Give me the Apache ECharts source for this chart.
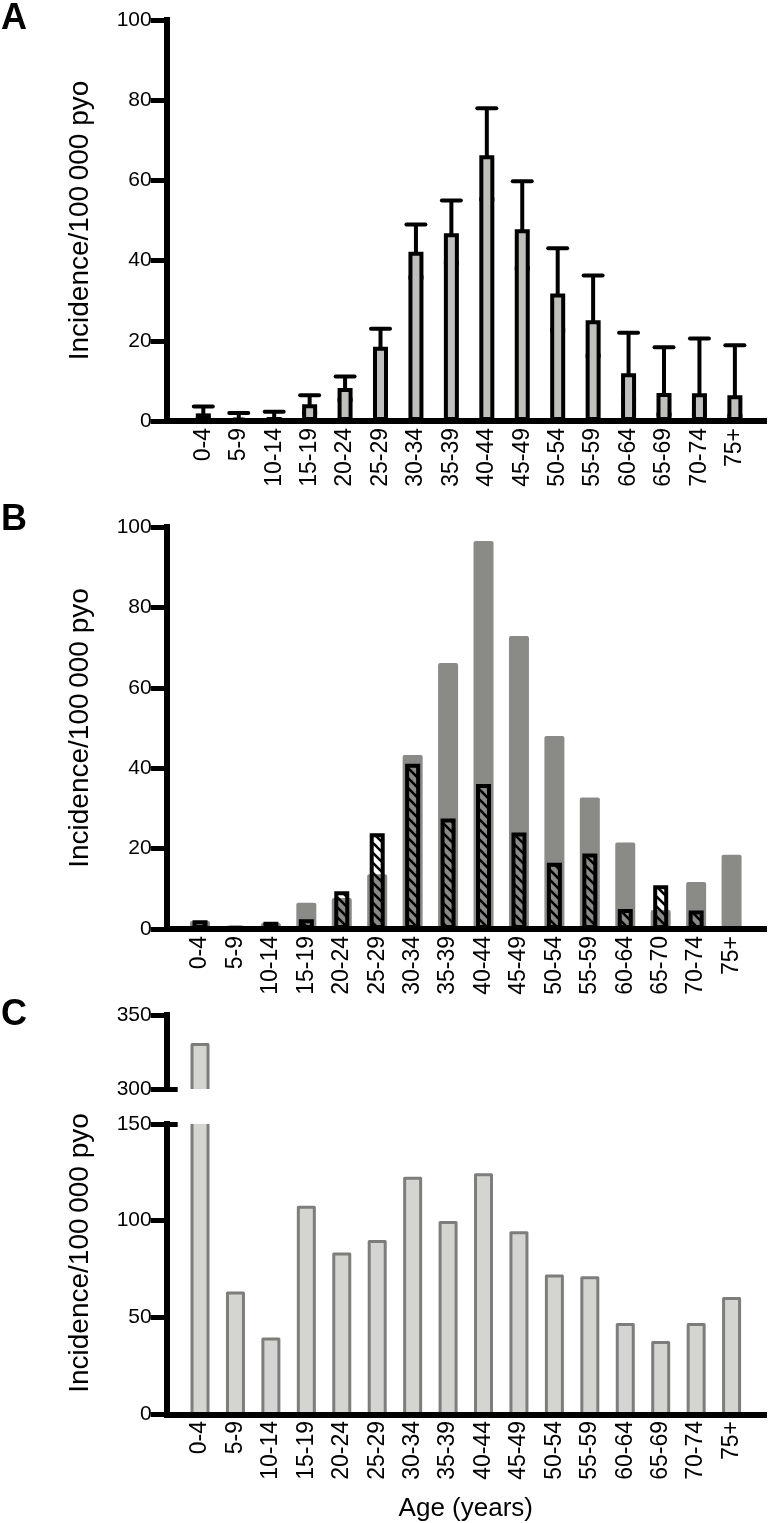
<!DOCTYPE html>
<html><head><meta charset="utf-8">
<script src="https://cdn.jsdelivr.net/npm/echarts@6/dist/echarts.min.js"></script>
<style>html,body{margin:0;padding:0;background:#fff}#c{width:772px;height:1523px}</style>
</head><body><div id="c"></div>
<script>
// ---------- data ----------
const agesA = ['0-4','5-9','10-14','15-19','20-24','25-29','30-34','35-39','40-44','45-49','50-54','55-59','60-64','65-69','70-74','75+'];
const agesB = ['0-4','5-9','10-14','15-19','20-24','25-29','30-34','35-39','40-44','45-49','50-54','55-59','60-64','65-70','70-74','75+'];
const incidenceA = [1.9, 0.8, 1.0, 4.2, 8.2, 18.5, 42.2, 46.8, 66.3, 47.8, 31.8, 25.1, 11.9, 7.0, 6.9, 6.4];
const ciLowA     = [0.6, 0.2, 0.3, 2.0, 5.3, 14.4, 35.8, 39.4, 55.3, 38.0, 22.6, 16.3, 5.4, 1.6, 1.4, 1.2];
const ciHighA    = [3.6, 2.0, 2.3, 6.4, 11.1, 23.0, 49.0, 55.0, 78.0, 59.8, 43.1, 36.3, 22.0, 18.4, 20.6, 18.9];
const grayB      = [2.0, 0.8, 1.5, 6.5, 7.7, 13.6, 43.3, 66.2, 96.5, 72.9, 48.0, 32.7, 21.5, 4.7, 11.7, 18.5];
const hatchedB   = [2.2, 0.6, 1.8, 2.4, 9.4, 23.8, 41.1, 27.5, 36.1, 24.0, 16.5, 18.8, 5.0, 10.9, 4.6, 0];
const incidenceC = [330, 62.6, 38.8, 106.9, 82.8, 89.2, 122, 99.1, 123.7, 93.7, 71.4, 70.5, 46.3, 37.0, 46.3, 59.7];
const yTitle = 'Incidence/100\u2009000 pyo';
const xTitle = 'Age (years)';

// ---------- styles ----------
const FONT = "Arial, 'Liberation Sans', Helvetica, sans-serif";
const BAND_W = 567;
const C_FILL = '#d4d4d0', C_LINE = '#7d7d7b';

function hatchCanvas() {
  const c = document.createElement('canvas'); c.width = 10; c.height = 10;
  const g = c.getContext('2d'); g.strokeStyle = '#000'; g.lineWidth = 2.6;
  g.beginPath();
  g.moveTo(-2,-2); g.lineTo(12,12);
  g.moveTo(-2,8); g.lineTo(2,12);
  g.moveTo(8,-2); g.lineTo(12,2);
  g.stroke();
  return c;
}

function yAx(grid, min, max, interval, offset, extra) {
  return Object.assign({
    type:'value', gridIndex:grid, position:'left', min:min, max:max, interval:interval, offset:offset,
    axisLine:{show:true, onZero:false, lineStyle:{color:'#000', width:6, cap:'square'}},
    axisTick:{show:true, inside:false, length:16, lineStyle:{color:'#000', width:5}},
    axisLabel:{show:true, margin:15, color:'#000', fontSize:21, fontFamily:FONT},
    splitLine:{show:false}
  }, extra || {});
}
function yTickOnly(grid, min, max, offset, val) {
  return {type:'value', gridIndex:grid, position:'left', min:min, max:max, offset:offset,
    axisLine:{show:false}, axisLabel:{show:false}, splitLine:{show:false},
    axisTick:{show:true, inside:true, length:11, customValues:[val], lineStyle:{color:'#000', width:5}}};
}
function yHidden(grid) { return {type:'value', gridIndex:grid, min:0, max:1, show:false}; }
function xCat(grid, cats, show, extra) {
  return Object.assign({
    type:'category', gridIndex:grid, data:cats, show:show, position:'bottom',
    axisLine:{show:false}, axisTick:{show:false},
    axisLabel:{show:true, rotate:90, margin:7, color:'#000', fontSize:23, fontFamily:FONT, interval:0},
    splitLine:{show:false}
  }, extra || {});
}
function xLine(grid) {
  return {type:'value', gridIndex:grid, min:0, max:1, z:10,
    axisLine:{show:true, onZero:false, lineStyle:{color:'#000', width:6, cap:'butt'}},
    axisTick:{show:false}, axisLabel:{show:false}, splitLine:{show:false}};
}
const nameStyle = {fontSize:28, color:'#000', fontFamily:FONT};

function errRender(params, api) {
  const i = api.value(0);
  const lo = api.coord([i, api.value(1)]);
  const hi = api.coord([i, api.value(2)]);
  const h = 9.5;
  const st = {stroke:'#000', lineWidth:4, lineCap:'butt'};
  return {type:'group', children:[
    {type:'line', shape:{x1:hi[0], y1:lo[1], x2:hi[0], y2:hi[1]}, style:st},
    {type:'line', shape:{x1:hi[0]-h, y1:hi[1], x2:hi[0]+h, y2:hi[1]}, style:{stroke:'#000', lineWidth:4, lineCap:'round'}},
    {type:'line', shape:{x1:lo[0]-h+2, y1:lo[1], x2:lo[0]+h-2, y2:lo[1]}, style:st}
  ]};
}
function cRender(lo, hi) {
  return function(params, api) {
    const i = api.value(0), v = api.value(1);
    if (v <= lo) return null;
    const top = Math.min(v, hi);
    const b = api.coord([i, lo]), t = api.coord([i, top]);
    const w = 16, x0 = b[0]-w/2, x1 = b[0]+w/2;
    const st = {stroke:C_LINE, lineWidth:3, fill:null, lineJoin:'round'};
    const kids = [{type:'rect', shape:{x:x0, y:t[1], width:w, height:b[1]-t[1]}, style:{fill:C_FILL}}];
    if (v > hi) {
      kids.push({type:'line', shape:{x1:x0, y1:b[1], x2:x0, y2:t[1]}, style:st});
      kids.push({type:'line', shape:{x1:x1, y1:b[1], x2:x1, y2:t[1]}, style:st});
    } else {
      kids.push({type:'polyline', shape:{points:[[x0,b[1]],[x0,t[1]],[x1,t[1]],[x1,b[1]]]}, style:st});
    }
    return {type:'group', children:kids};
  };
}

const chart = echarts.init(document.getElementById('c'), null, {renderer:'canvas'});
const option = {
  backgroundColor:'#ffffff',
  animation:false,
  textStyle:{fontFamily:FONT},
  grid:[
    {left:185.6, top:20, width:BAND_W, height:401},     // 0 A
    {left:164, top:20, width:603, height:401},          // 1 A base line
    {left:182.3, top:527, width:BAND_W, height:402},    // 2 B
    {left:164, top:527, width:603, height:402},         // 3 B base line
    {left:182.3, top:1015, width:BAND_W, height:74},    // 4 C upper
    {left:182.3, top:1124, width:BAND_W, height:290.3}, // 5 C lower
    {left:164, top:1124, width:603, height:290.3}       // 6 C base line
  ],
  xAxis:[
    xCat(0, agesA, true),
    xLine(1),
    xCat(2, agesB, true),
    xCat(2, agesB, false),
    xLine(3),
    xCat(4, agesA, false),
    xCat(5, agesA, true, {name:xTitle, nameLocation:'middle', nameGap:82, nameTextStyle:{fontSize:26, color:'#000', fontFamily:FONT}}),
    xLine(6)
  ],
  yAxis:[
    yAx(0, 0, 100, 20, 18.9, {name:yTitle, nameLocation:'middle', nameGap:72, nameTextStyle:nameStyle}),
    yHidden(1),
    yAx(2, 0, 100, 20, 15.6, {name:yTitle, nameLocation:'middle', nameGap:72, nameTextStyle:nameStyle}),
    yHidden(3),
    yAx(4, 300, 350, 50, 15.6),
    yTickOnly(4, 300, 350, 15.6, 300),
    yAx(5, 0, 150, 50, 15.6, {name:yTitle, nameLocation:'middle', nameGap:72, nameTextStyle:Object.assign({padding:[0,0,0,32]}, nameStyle)}),
    yTickOnly(5, 0, 150, 15.6, 150),
    yHidden(6)
  ],
  graphic:[
    {type:'text', left:1, top:1, style:{text:'A', fontSize:36, fontWeight:'bold', fontFamily:FONT, fill:'#000'}},
    {type:'text', left:1, top:502, style:{text:'B', fontSize:36, fontWeight:'bold', fontFamily:FONT, fill:'#000'}},
    {type:'text', left:1, top:997, style:{text:'C', fontSize:36, fontWeight:'bold', fontFamily:FONT, fill:'#000'}}
  ],
  series:[
    {type:'bar', name:'Incidence', xAxisIndex:0, yAxisIndex:0, data:incidenceA, barWidth:15, silent:true,
      itemStyle:{color:'#bfbfbb', borderColor:'#000', borderWidth:4}},
    {type:'custom', name:'95% CI', xAxisIndex:0, yAxisIndex:0, silent:true,
      data:agesA.map((a,i)=>[i, ciLowA[i], ciHighA[i]]), encode:{x:0, y:[1,2]}, renderItem:errRender},
    {type:'bar', name:'Group 1', xAxisIndex:3, yAxisIndex:2, data:grayB, barWidth:20, silent:true,
      itemStyle:{color:'#8a8b87', borderRadius:[2,2,0,0]}},
    {type:'bar', name:'Group 2', xAxisIndex:2, yAxisIndex:2, data:hatchedB, barWidth:15, silent:true,
      itemStyle:{color:{image:hatchCanvas(), repeat:'repeat'}, borderColor:'#000', borderWidth:4}},
    {type:'custom', name:'Incidence C upper', xAxisIndex:5, yAxisIndex:4, silent:true,
      data:incidenceC.map((v,i)=>[i,v]), encode:{x:0, y:1}, renderItem:cRender(300, 350)},
    {type:'custom', name:'Incidence C lower', xAxisIndex:6, yAxisIndex:6, silent:true,
      data:incidenceC.map((v,i)=>[i,v]), encode:{x:0, y:1}, renderItem:cRender(0, 150)}
  ]
};
chart.setOption(option);
</script>
</body></html>
